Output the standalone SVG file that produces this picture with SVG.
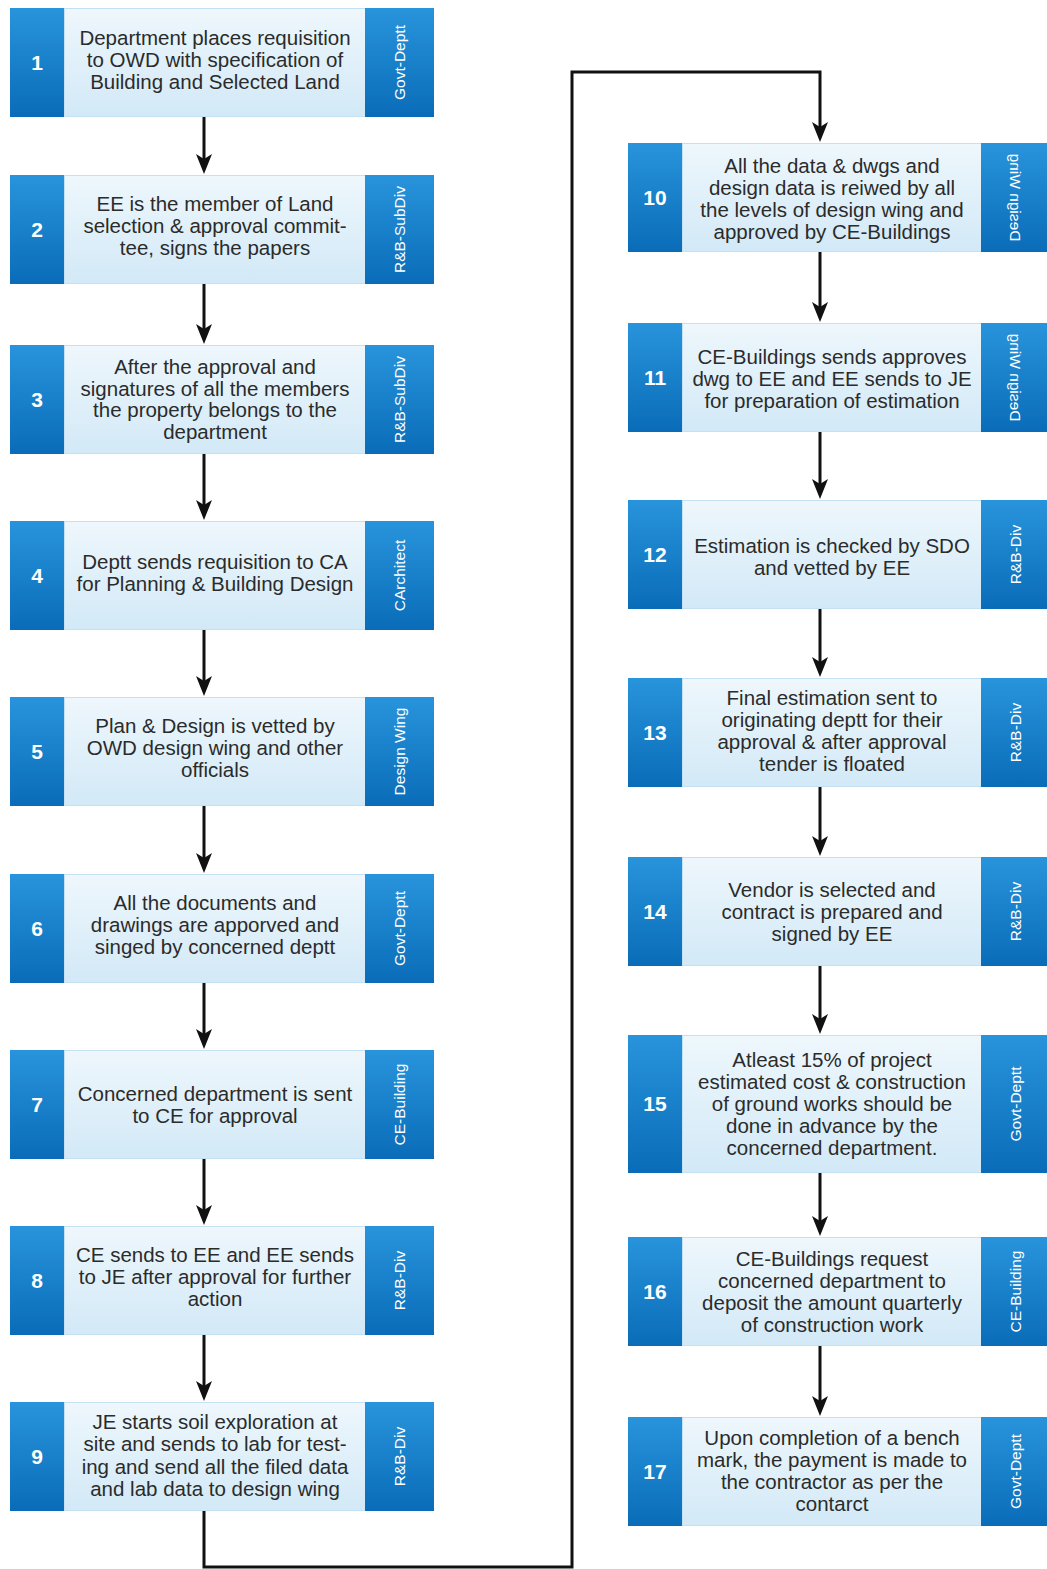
<svg xmlns="http://www.w3.org/2000/svg" width="1047" height="1569" viewBox="0 0 1047 1569">
  <defs>
    <linearGradient id="blueGrad" x1="0" y1="0" x2="0" y2="1">
      <stop offset="0" stop-color="#2894dc"/>
      <stop offset="1" stop-color="#0a6cb8"/>
    </linearGradient>
    <linearGradient id="paleGrad" x1="0" y1="0" x2="0" y2="1">
      <stop offset="0" stop-color="#eef7fc"/>
      <stop offset="1" stop-color="#d2e9f7"/>
    </linearGradient>
    <marker id="arrowHead" viewBox="0 0 20 20" refX="12" refY="10" markerWidth="20" markerHeight="20" markerUnits="userSpaceOnUse" orient="auto">
      <path d="M0,2 L20,10 L0,18 L5,10 z" fill="#111"/>
    </marker>
    <style>
      .num { fill: url(#blueGrad); }
      .body { fill: url(#paleGrad); stroke: #c3e1f3; stroke-width: 1; }
      .tag { fill: url(#blueGrad); }
      .txt { font-family: "Liberation Sans", Arial, sans-serif; font-size: 20.5px; fill: #2b2b2b; text-anchor: middle; }
      .no { font-family: "Liberation Sans", Arial, sans-serif; font-size: 21px; font-weight: bold; fill: #fff; text-anchor: middle; }
      .lbl { font-family: "Liberation Sans", Arial, sans-serif; font-size: 15.5px; fill: #fff; text-anchor: middle; }
      .wire { fill: none; stroke: #111; stroke-width: 3; }
    </style>
  </defs>

  <rect width="1047" height="1569" fill="#fff"/>

  <!-- connectors -->
  <g id="connectors">
    <line class="wire" x1="204" y1="117" x2="204" y2="166" marker-end="url(#arrowHead)"/>
    <line class="wire" x1="204" y1="284" x2="204" y2="336" marker-end="url(#arrowHead)"/>
    <line class="wire" x1="204" y1="454" x2="204" y2="512" marker-end="url(#arrowHead)"/>
    <line class="wire" x1="204" y1="630" x2="204" y2="688" marker-end="url(#arrowHead)"/>
    <line class="wire" x1="204" y1="806" x2="204" y2="865" marker-end="url(#arrowHead)"/>
    <line class="wire" x1="204" y1="983" x2="204" y2="1041" marker-end="url(#arrowHead)"/>
    <line class="wire" x1="204" y1="1159" x2="204" y2="1217" marker-end="url(#arrowHead)"/>
    <line class="wire" x1="204" y1="1335" x2="204" y2="1393" marker-end="url(#arrowHead)"/>
    <path class="wire" d="M204,1511 V1567 H572 V72 H820 V134" marker-end="url(#arrowHead)"/>
    <line class="wire" x1="820" y1="252" x2="820" y2="314" marker-end="url(#arrowHead)"/>
    <line class="wire" x1="820" y1="432" x2="820" y2="491" marker-end="url(#arrowHead)"/>
    <line class="wire" x1="820" y1="609" x2="820" y2="669" marker-end="url(#arrowHead)"/>
    <line class="wire" x1="820" y1="787" x2="820" y2="848" marker-end="url(#arrowHead)"/>
    <line class="wire" x1="820" y1="966" x2="820" y2="1026" marker-end="url(#arrowHead)"/>
    <line class="wire" x1="820" y1="1173" x2="820" y2="1228" marker-end="url(#arrowHead)"/>
    <line class="wire" x1="820" y1="1346" x2="820" y2="1408" marker-end="url(#arrowHead)"/>
  </g>

  <!-- left column -->
  <g id="node-1">
    <rect class="body" x="64.5" y="8.5" width="301" height="108"/>
    <rect class="num" x="10" y="8" width="54" height="109"/>
    <rect class="tag" x="365" y="8" width="69" height="109"/>
    <text class="no" x="37" y="70">1</text>
    <text class="txt"><tspan x="215" y="45">Department places requisition</tspan><tspan x="215" y="67">to OWD with specification of</tspan><tspan x="215" y="89">Building and Selected Land</tspan></text>
    <text class="lbl" transform="translate(399.5,62.5) rotate(-90)" y="5.5">Govt-Deptt</text>
  </g>

  <g id="node-2">
    <rect class="body" x="64.5" y="175.5" width="301" height="108"/>
    <rect class="num" x="10" y="175" width="54" height="109"/>
    <rect class="tag" x="365" y="175" width="69" height="109"/>
    <text class="no" x="37" y="237">2</text>
    <text class="txt"><tspan x="215" y="211">EE is the member of Land</tspan><tspan x="215" y="233">selection &amp; approval commit-</tspan><tspan x="215" y="255">tee, signs the papers</tspan></text>
    <text class="lbl" transform="translate(399.5,229.5) rotate(-90)" y="5.5">R&amp;B-SubDiv</text>
  </g>

  <g id="node-3">
    <rect class="body" x="64.5" y="345.5" width="301" height="108"/>
    <rect class="num" x="10" y="345" width="54" height="109"/>
    <rect class="tag" x="365" y="345" width="69" height="109"/>
    <text class="no" x="37" y="407">3</text>
    <text class="txt"><tspan x="215" y="374">After the approval and</tspan><tspan x="215" y="395.5">signatures of all the members</tspan><tspan x="215" y="417">the property belongs to the</tspan><tspan x="215" y="438.5">department</tspan></text>
    <text class="lbl" transform="translate(399.5,399.5) rotate(-90)" y="5.5">R&amp;B-SubDiv</text>
  </g>

  <g id="node-4">
    <rect class="body" x="64.5" y="521.5" width="301" height="108"/>
    <rect class="num" x="10" y="521" width="54" height="109"/>
    <rect class="tag" x="365" y="521" width="69" height="109"/>
    <text class="no" x="37" y="583">4</text>
    <text class="txt"><tspan x="215" y="569">Deptt sends requisition to CA</tspan><tspan x="215" y="591">for Planning &amp; Building Design</tspan></text>
    <text class="lbl" transform="translate(399.5,575.5) rotate(-90)" y="5.5">CArchitect</text>
  </g>

  <g id="node-5">
    <rect class="body" x="64.5" y="697.5" width="301" height="108"/>
    <rect class="num" x="10" y="697" width="54" height="109"/>
    <rect class="tag" x="365" y="697" width="69" height="109"/>
    <text class="no" x="37" y="759">5</text>
    <text class="txt"><tspan x="215" y="733">Plan &amp; Design is vetted by</tspan><tspan x="215" y="755">OWD design wing and other</tspan><tspan x="215" y="777">officials</tspan></text>
    <text class="lbl" transform="translate(399.5,751.5) rotate(-90)" y="5.5">Design Wing</text>
  </g>

  <g id="node-6">
    <rect class="body" x="64.5" y="874.5" width="301" height="108"/>
    <rect class="num" x="10" y="874" width="54" height="109"/>
    <rect class="tag" x="365" y="874" width="69" height="109"/>
    <text class="no" x="37" y="936">6</text>
    <text class="txt"><tspan x="215" y="910">All the documents and</tspan><tspan x="215" y="932">drawings are apporved and</tspan><tspan x="215" y="954">singed by concerned deptt</tspan></text>
    <text class="lbl" transform="translate(399.5,928.5) rotate(-90)" y="5.5">Govt-Deptt</text>
  </g>

  <g id="node-7">
    <rect class="body" x="64.5" y="1050.5" width="301" height="108"/>
    <rect class="num" x="10" y="1050" width="54" height="109"/>
    <rect class="tag" x="365" y="1050" width="69" height="109"/>
    <text class="no" x="37" y="1112">7</text>
    <text class="txt"><tspan x="215" y="1100.5">Concerned department is sent</tspan><tspan x="215" y="1122.5">to CE for approval</tspan></text>
    <text class="lbl" transform="translate(399.5,1104.5) rotate(-90)" y="5.5">CE-Building</text>
  </g>

  <g id="node-8">
    <rect class="body" x="64.5" y="1226.5" width="301" height="108"/>
    <rect class="num" x="10" y="1226" width="54" height="109"/>
    <rect class="tag" x="365" y="1226" width="69" height="109"/>
    <text class="no" x="37" y="1288">8</text>
    <text class="txt"><tspan x="215" y="1262">CE sends to EE and EE sends</tspan><tspan x="215" y="1284">to JE after approval for further</tspan><tspan x="215" y="1306">action</tspan></text>
    <text class="lbl" transform="translate(399.5,1280.5) rotate(-90)" y="5.5">R&amp;B-Div</text>
  </g>

  <g id="node-9">
    <rect class="body" x="64.5" y="1402.5" width="301" height="108"/>
    <rect class="num" x="10" y="1402" width="54" height="109"/>
    <rect class="tag" x="365" y="1402" width="69" height="109"/>
    <text class="no" x="37" y="1464">9</text>
    <text class="txt"><tspan x="215" y="1429">JE starts soil exploration at</tspan><tspan x="215" y="1451">site and sends to lab for test-</tspan><tspan x="215" y="1473.5">ing and send all the filed data</tspan><tspan x="215" y="1495.5">and lab data to design wing</tspan></text>
    <text class="lbl" transform="translate(399.5,1456.5) rotate(-90)" y="5.5">R&amp;B-Div</text>
  </g>

  <!-- right column -->
  <g id="node-10">
    <rect class="body" x="682.5" y="143.5" width="299" height="108"/>
    <rect class="num" x="628" y="143" width="54" height="109"/>
    <rect class="tag" x="981" y="143" width="69" height="109"/>
    <text class="no" x="655" y="205">10</text>
    <text class="txt"><tspan x="832" y="173">All the data &amp; dwgs and</tspan><tspan x="832" y="195">design data is reiwed by all</tspan><tspan x="832" y="217">the levels of design wing and</tspan><tspan x="832" y="239">approved by CE-Buildings</tspan></text>
    <text class="lbl" transform="translate(1015,197.5) scale(-1,1) rotate(-90)" y="5.5">Design Wing</text>
  </g>

  <g id="node-11">
    <rect class="body" x="682.5" y="323.5" width="299" height="108"/>
    <rect class="num" x="628" y="323" width="54" height="109"/>
    <rect class="tag" x="981" y="323" width="69" height="109"/>
    <text class="no" x="655" y="385">11</text>
    <text class="txt"><tspan x="832" y="364">CE-Buildings sends approves</tspan><tspan x="832" y="386">dwg to EE and EE sends to JE</tspan><tspan x="832" y="408">for preparation of estimation</tspan></text>
    <text class="lbl" transform="translate(1015,377.5) scale(-1,1) rotate(-90)" y="5.5">Design Wing</text>
  </g>

  <g id="node-12">
    <rect class="body" x="682.5" y="500.5" width="299" height="108"/>
    <rect class="num" x="628" y="500" width="54" height="109"/>
    <rect class="tag" x="981" y="500" width="69" height="109"/>
    <text class="no" x="655" y="562">12</text>
    <text class="txt"><tspan x="832" y="553">Estimation is checked by SDO</tspan><tspan x="832" y="575">and vetted by EE</tspan></text>
    <text class="lbl" transform="translate(1015,554.5) rotate(-90)" y="5.5">R&amp;B-Div</text>
  </g>

  <g id="node-13">
    <rect class="body" x="682.5" y="678.5" width="299" height="108"/>
    <rect class="num" x="628" y="678" width="54" height="109"/>
    <rect class="tag" x="981" y="678" width="69" height="109"/>
    <text class="no" x="655" y="740">13</text>
    <text class="txt"><tspan x="832" y="705">Final estimation sent to</tspan><tspan x="832" y="727">originating deptt for their</tspan><tspan x="832" y="749">approval &amp; after approval</tspan><tspan x="832" y="771">tender is floated</tspan></text>
    <text class="lbl" transform="translate(1015,732.5) rotate(-90)" y="5.5">R&amp;B-Div</text>
  </g>

  <g id="node-14">
    <rect class="body" x="682.5" y="857.5" width="299" height="108"/>
    <rect class="num" x="628" y="857" width="54" height="109"/>
    <rect class="tag" x="981" y="857" width="69" height="109"/>
    <text class="no" x="655" y="919">14</text>
    <text class="txt"><tspan x="832" y="897">Vendor is selected and</tspan><tspan x="832" y="919">contract is prepared and</tspan><tspan x="832" y="941">signed by EE</tspan></text>
    <text class="lbl" transform="translate(1015,911.5) rotate(-90)" y="5.5">R&amp;B-Div</text>
  </g>

  <g id="node-15">
    <rect class="body" x="682.5" y="1035.5" width="299" height="137"/>
    <rect class="num" x="628" y="1035" width="54" height="138"/>
    <rect class="tag" x="981" y="1035" width="69" height="138"/>
    <text class="no" x="655" y="1111">15</text>
    <text class="txt"><tspan x="832" y="1067">Atleast 15% of project</tspan><tspan x="832" y="1089">estimated cost &amp; construction</tspan><tspan x="832" y="1111">of ground works should be</tspan><tspan x="832" y="1133">done in advance by the</tspan><tspan x="832" y="1155">concerned department.</tspan></text>
    <text class="lbl" transform="translate(1015,1104) rotate(-90)" y="5.5">Govt-Deptt</text>
  </g>

  <g id="node-16">
    <rect class="body" x="682.5" y="1237.5" width="299" height="108"/>
    <rect class="num" x="628" y="1237" width="54" height="109"/>
    <rect class="tag" x="981" y="1237" width="69" height="109"/>
    <text class="no" x="655" y="1299">16</text>
    <text class="txt"><tspan x="832" y="1266">CE-Buildings request</tspan><tspan x="832" y="1288">concerned department to</tspan><tspan x="832" y="1310">deposit the amount quarterly</tspan><tspan x="832" y="1332">of construction work</tspan></text>
    <text class="lbl" transform="translate(1015,1291.5) rotate(-90)" y="5.5">CE-Building</text>
  </g>

  <g id="node-17">
    <rect class="body" x="682.5" y="1417.5" width="299" height="108"/>
    <rect class="num" x="628" y="1417" width="54" height="109"/>
    <rect class="tag" x="981" y="1417" width="69" height="109"/>
    <text class="no" x="655" y="1479">17</text>
    <text class="txt"><tspan x="832" y="1445">Upon completion of a bench</tspan><tspan x="832" y="1467">mark, the payment is made to</tspan><tspan x="832" y="1489">the contractor as per the</tspan><tspan x="832" y="1511">contarct</tspan></text>
    <text class="lbl" transform="translate(1015,1471.5) rotate(-90)" y="5.5">Govt-Deptt</text>
  </g>
</svg>
